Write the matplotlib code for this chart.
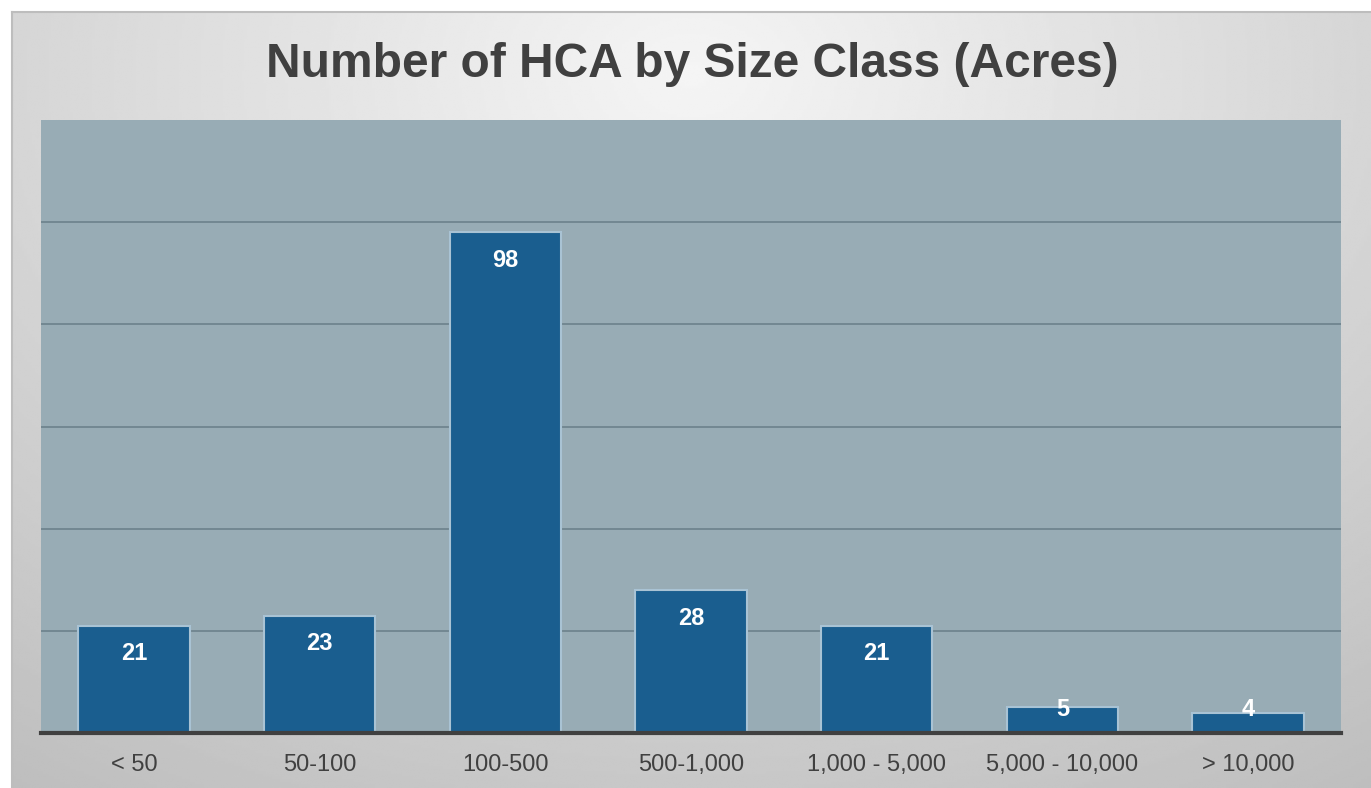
import matplotlib
matplotlib.use('Agg')
import matplotlib.pyplot as plt
import numpy as np

plt.rcParams['font.family'] = ['Liberation Sans', 'DejaVu Sans']

CATEGORIES = ['< 50', '50-100', '100-500', '500-1,000', '1,000 - 5,000',
              '5,000 - 10,000', '> 10,000']
COUNTS = [21, 23, 98, 28, 21, 5, 4]

W, H = 1371, 788
fig = plt.figure(figsize=(W / 100, H / 100), dpi=100)
fig.patch.set_facecolor('white')

# Gray radial-gradient panel behind everything
bg = fig.add_axes([12 / W, 0, (W - 12) / W, (H - 12) / H], zorder=0)
yy, xx = np.mgrid[0:1:300j, 0:1:500j]
r = np.sqrt(((xx - 0.5) / 0.75) ** 2 + ((yy - 0.08) / 0.95) ** 2)
shade = 0.96 - 0.22 * np.clip(r, 0, 1.2) / 1.2
bg.imshow(shade, cmap='gray', vmin=0, vmax=1, aspect='auto',
          extent=[0, 1, 1, 0], interpolation='bilinear')
bg.set_xlim(0, 1)
bg.set_ylim(1, 0)
bg.set_xticks([])
bg.set_yticks([])
for side, s in bg.spines.items():
    s.set_color('#BDBDBD')
    s.set_linewidth(1.5)
    if side in ('right', 'bottom'):
        s.set_visible(False)

# Plot area: x 41..1341, y 120..733
ax = fig.add_axes([41 / W, (H - 733) / H, 1300 / W, 613 / H], zorder=1)
ax.set_facecolor('#98ACB5')
x = np.arange(len(CATEGORIES))
ax.bar(x, COUNTS, width=0.6, color='#1A5E8F',
       edgecolor='#A9C3D4', linewidth=1.5, zorder=3)
ax.set_xlim(-0.5, len(CATEGORIES) - 0.5)
ax.set_ylim(0, 120)
ax.set_yticks(np.arange(20, 101, 20))
ax.yaxis.grid(True, color='#6C818C', linewidth=1.2)
ax.set_axisbelow(True)
ax.tick_params(axis='y', length=0, labelleft=False)
ax.set_xticks(x)
ax.set_xticklabels(CATEGORIES, fontsize=17, color='#404040')
ax.tick_params(axis='x', length=0, pad=15)
for side in ['top', 'left', 'right']:
    ax.spines[side].set_visible(False)
ax.spines['bottom'].set_color('#404040')
ax.spines['bottom'].set_linewidth(3)
ax.spines['bottom'].set_zorder(5)

# value labels inside the bar top; short bars keep the label just above baseline
for xi, v in zip(x, COUNTS):
    ax.text(xi, max(v - 5.5, 4.6), str(v), ha='center', va='center',
            fontsize=17, fontweight='bold', color='white', zorder=6)

fig.text(692 / W, 1 - 77 / H, 'Number of HCA by Size Class (Acres)',
         ha='center', va='baseline', fontsize=34.5, fontweight='bold',
         color='#404040')

fig.savefig('out.png', dpi=100)
